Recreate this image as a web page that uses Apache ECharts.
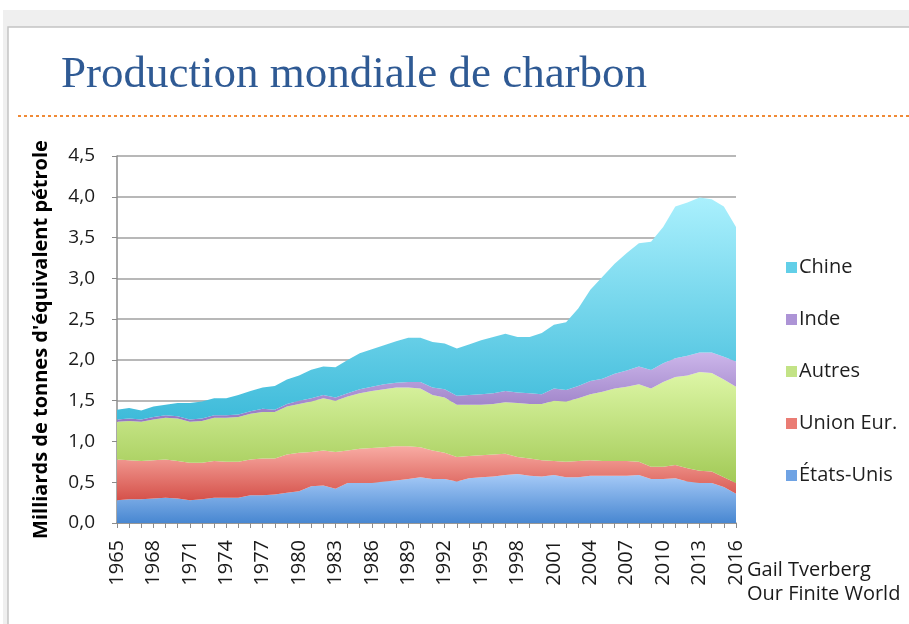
<!DOCTYPE html>
<html>
<head>
<meta charset="utf-8">
<script src="https://cdn.jsdelivr.net/npm/echarts@6/dist/echarts.min.js"></script>
<style>
  html, body { margin: 0; padding: 0; background: #ffffff; }
  #chart { width: 909px; height: 624px; }
</style>
</head>
<body>
<div id="chart"></div>
<script>
// years on the x axis
const years = [];
for (let y = 1965; y <= 2016; y++) years.push(String(y));

// coal production, billions of tonnes oil equivalent
const etatsUnis = [0.28,0.29,0.29,0.30,0.31,0.30,0.28,0.29,0.31,0.31,0.31,0.34,0.34,0.35,0.37,0.39,0.45,0.46,0.42,0.49,
  0.49,0.49,0.51,0.52,0.54,0.56,0.54,0.54,0.51,0.55,0.56,0.57,0.59,0.60,0.58,0.57,0.59,0.56,0.56,0.58,
  0.58,0.58,0.58,0.59,0.54,0.54,0.55,0.51,0.49,0.49,0.44,0.36];
const unionEur = [0.50,0.48,0.47,0.47,0.47,0.46,0.46,0.45,0.45,0.44,0.44,0.44,0.45,0.44,0.47,0.47,0.42,0.43,0.45,0.40,
  0.42,0.43,0.42,0.42,0.40,0.37,0.35,0.32,0.30,0.27,0.27,0.27,0.26,0.21,0.21,0.20,0.17,0.19,0.20,0.19,
  0.18,0.18,0.18,0.16,0.15,0.15,0.16,0.16,0.15,0.14,0.12,0.13];
const autres = [0.46,0.48,0.48,0.50,0.51,0.52,0.50,0.51,0.53,0.54,0.55,0.56,0.57,0.57,0.59,0.60,0.62,0.64,0.63,0.66,
  0.68,0.70,0.71,0.72,0.72,0.72,0.68,0.68,0.64,0.63,0.62,0.62,0.63,0.66,0.67,0.69,0.74,0.74,0.77,0.81,
  0.85,0.89,0.91,0.95,0.96,1.04,1.08,1.14,1.21,1.21,1.20,1.18];
const inde = [0.03,0.03,0.03,0.03,0.03,0.03,0.03,0.03,0.03,0.03,0.03,0.03,0.04,0.03,0.03,0.04,0.04,0.04,0.04,0.04,
  0.05,0.05,0.06,0.06,0.07,0.08,0.09,0.10,0.11,0.12,0.13,0.13,0.14,0.13,0.13,0.12,0.15,0.14,0.15,0.16,
  0.16,0.18,0.20,0.22,0.225,0.23,0.23,0.24,0.24,0.25,0.28,0.31];
const chine = [0.12,0.13,0.11,0.13,0.13,0.16,0.20,0.21,0.21,0.21,0.24,0.25,0.26,0.29,0.30,0.31,0.35,0.35,0.37,0.41,
  0.44,0.46,0.48,0.51,0.54,0.54,0.56,0.56,0.58,0.62,0.66,0.69,0.70,0.68,0.69,0.75,0.78,0.83,0.95,1.12,
  1.25,1.35,1.44,1.51,1.575,1.67,1.86,1.88,1.90,1.88,1.84,1.65];

const yTicks = [0, 4.5, 0.5]; // min, max, step

function grad(top, bottom) {
  return new echarts.graphic.LinearGradient(0, 0, 0, 1, [
    { offset: 0, color: top },
    { offset: 1, color: bottom }
  ]);
}

function area(name, data, top, bottom, solid) {
  return {
    name: name,
    type: 'line',
    stack: 'total',
    data: data,
    showSymbol: false,
    symbol: 'none',
    lineStyle: { width: 0 },
    itemStyle: { color: solid },
    areaStyle: { color: grad(top, bottom), opacity: 1 },
    emphasis: { disabled: true }
  };
}

const chart = echarts.init(document.getElementById('chart'));
const font = '"Open Sans", "DejaVu Sans", sans-serif';

chart.setOption({
  animation: false,
  textStyle: { fontFamily: font },
  graphic: [
    { type: 'rect', shape: { x: 3, y: 10, width: 906, height: 614 }, style: { fill: '#efefef' }, z: -10 },
    { type: 'rect', shape: { x: 8, y: 27, width: 910, height: 610 }, style: { fill: '#ffffff', stroke: '#c4c4c4', lineWidth: 1.5 }, z: -9 },
    { type: 'text', x: 61, y: 75, style: { text: 'Production mondiale de charbon', font: '45px "Liberation Serif", serif', fill: '#2f5a94', verticalAlign: 'middle' } },
    { type: 'line', shape: { x1: 18, y1: 116, x2: 909, y2: 116 }, style: { stroke: '#f08a36', lineWidth: 2, lineDash: [3, 3] } },
    { type: 'text', x: 747, y: 570, style: { text: 'Gail Tverberg', font: '20px ' + font, fill: '#1a1a1a', verticalAlign: 'middle' } },
    { type: 'text', x: 747, y: 594, style: { text: 'Our Finite World', font: '20px ' + font, fill: '#1a1a1a', verticalAlign: 'middle' } }
  ],
  grid: { left: 117, right: 173, top: 156, bottom: 101, outerBoundsMode: 'none' },
  legend: {
    orient: 'vertical',
    left: 781,
    top: 252,
    itemWidth: 11,
    itemHeight: 11,
    itemGap: 31,
    icon: 'rect',
    data: ['Chine', 'Inde', 'Autres', 'Union Eur.', 'États-Unis'],
    textStyle: { fontSize: 20, color: '#1f1f1f', lineHeight: 21, fontFamily: font, padding: [0, 0, 0, -3] }
  },
  xAxis: {
    type: 'category',
    data: years,
    boundaryGap: false,
    axisLine: { lineStyle: { color: '#8c8c8c', width: 1.5 } },
    axisTick: { show: true, interval: 0, length: 5, lineStyle: { color: '#8c8c8c' } },
    axisLabel: { interval: 2, rotate: 90, margin: 17, fontSize: 20, color: '#1a1a1a' },
    splitLine: { show: false }
  },
  yAxis: {
    type: 'value',
    min: yTicks[0],
    max: yTicks[1],
    interval: yTicks[2],
    name: "Milliards de tonnes d'équivalent pétrole",
    nameLocation: 'middle',
    nameGap: 66,
    nameTextStyle: { fontSize: 20, fontWeight: 'bold', color: '#000000' },
    axisLine: { show: true, lineStyle: { color: '#8c8c8c', width: 1.5 } },
    axisTick: { show: true, length: 5, lineStyle: { color: '#8c8c8c' } },
    axisLabel: {
      margin: 22, fontSize: 19, color: '#1a1a1a',
      formatter: v => v.toFixed(1).replace('.', ',')
    },
    splitLine: { lineStyle: { color: '#a0a0a0', width: 1.5 } }
  },
  series: [
    area('États-Unis', etatsUnis, '#a6caf7', '#4887d1', '#6fa3e4'),
    area('Union Eur.', unionEur, '#f8aba3', '#d5514a', '#ea7c74'),
    area('Autres', autres, '#ddf6a6', '#a2ca56', '#c3e386'),
    area('Inde', inde, '#ccb6ea', '#9477c1', '#ad94d6'),
    area('Chine', chine, '#aaf0fd', '#3ebbda', '#62cfe8')
  ]
});
</script>
</body>
</html>
